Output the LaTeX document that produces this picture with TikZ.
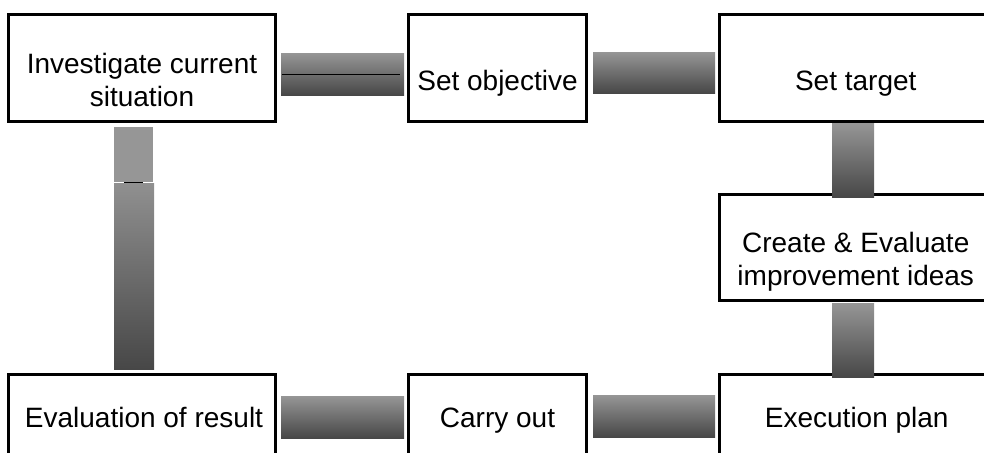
\documentclass[tikz,border=0pt]{standalone}
\usepackage{fontspec}
\setmainfont{Liberation Sans}
\usepackage{tikz}
\usetikzlibrary{positioning,calc}
\definecolor{grey400}{HTML}{969696}
\definecolor{grey450}{HTML}{909090}
\definecolor{grey800}{HTML}{474747}
\tikzset{
  box/.style  ={draw=black, line width=1.5pt, fill=white, outer sep=0pt,
                minimum height=53.5pt, inner sep=0pt},
  txt/.style  ={align=center, inner sep=0pt,
                font=\fontsize{14}{16.5}\selectfont},
  bar/.style  ={top color=grey400, bottom color=grey800},
  seam/.style ={draw=black, line width=0.5pt}
}

\begin{document}
\begin{tikzpicture}[x=0.5pt, y=0.5pt]
\useasboundingbox (0,0) rectangle (984,452);

% boxes
\node[box, minimum width=133.5pt] (b1) at (142,384.5) {};
\node[box, minimum width=89pt] (b2) at (497.5,384.5) {};
\node[box, minimum width=136.25pt] (b3) at (855.75,384.5) {};
\node[box, minimum width=136.25pt, minimum height=53pt] (b4) at (855.75,204.5) {};
\node[box, minimum width=136.25pt, minimum height=53pt] (b5) at (855.75,24.5) {};
\node[box, minimum width=89pt, minimum height=53pt] (b6) at (497.5,24.5) {};
\node[box, minimum width=133.5pt, minimum height=53pt] (b7) at (142,24.5) {};

% texts
\node[txt] (t1) at ([yshift=-6pt]b1.center) {Investigate current\\situation};
\node[txt, anchor=base] (t2) at ([yshift=-11.25pt]b2.center) {Set objective};
\node[txt, anchor=base] (t3) at ([yshift=-11.25pt]b3.center) {Set target};
\node[txt] (t4) at ([yshift=-7pt]b4.center) {Create \& Evaluate\\improvement ideas};
\node[txt, anchor=base] (t5) at ([xshift=0.5pt]b5.center) {Execution plan};
\node[txt, anchor=base] (t6) at (b6.center) {Carry out};
\node[txt, anchor=base] (t7) at ([xshift=1pt]b7.center) {Evaluation of result};

% shaded connectors
\shade[bar] ($(b1.east)+(5.5,-27.5)$) rectangle ($(b2.west)+(-4.5,14.5)$);
\draw[seam] ($(b1.east)+(6.5,-6.5)$) -- ($(b2.west)+(-8.5,-6.5)$);
\shade[bar] ($(b2.east)+(6.5,-25.5)$) rectangle ($(b3.west)+(-4.5,15.5)$);
\shade[bar] ($(b3.south)+(-23.75,-2)$) rectangle ($(b4.north)+(18.25,-2.5)$);
\shade[bar] ($(b4.south)+(-23.75,-2.5)$) rectangle ($(b5.north)+(18.25,-2.5)$);
\shade[bar] ($(b6.east)+(6.5,-9.5)$) rectangle ($(b5.west)+(-4.5,32.5)$);
\shade[bar] ($(b7.east)+(5.5,-10.5)$) rectangle ($(b6.west)+(-4.5,31.5)$);
\shade[top color=grey450, bottom color=grey800]
  ($(b7.north)+(-28,5.5)$) rectangle ($(b7.north)+(12,191.5)$);
\fill[grey400] ($(b1.south)+(-28,-6)$) rectangle ($(b1.south)+(11,-60.5)$);
\draw[seam] ($(b1.south)+(-18,-61)$) -- ($(b1.south)+(1,-61)$);
\end{tikzpicture}
\end{document}
